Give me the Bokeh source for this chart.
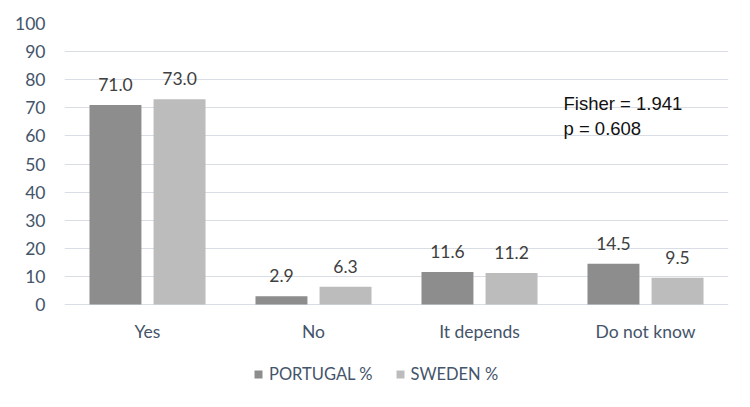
from bokeh.plotting import figure
from bokeh.models import ColumnDataSource, Label, Legend, LegendItem, LabelSet
from bokeh.transform import dodge
from bokeh.core.properties import value
from bokeh.embed import file_html
from bokeh.resources import INLINE

categories = ["Yes", "No", "It depends", "Do not know"]
portugal = [71.0, 2.9, 11.6, 14.5]
sweden = [73.0, 6.3, 11.2, 9.5]
series_names = ["PORTUGAL %", "SWEDEN %"]
y_ticks = [0, 10, 20, 30, 40, 50, 60, 70, 80, 90, 100]
stats_text = ["Fisher = 1.941", "p = 0.608"]

src = ColumnDataSource(dict(
    cat=categories, pt=portugal, se=sweden,
    pt_lab=[f"{v:.1f}" for v in portugal],
    se_lab=[f"{v:.1f}" for v in sweden],
    base=[0] * len(categories),
))

FONT = "Lato"
AXIS_COL = "#44546a"

p = figure(x_range=categories, y_range=(-33.8, 100), width=742, height=399,
           output_backend="svg", toolbar_location=None,
           min_border_left=64, min_border_right=14, min_border_top=23, min_border_bottom=0)
p.x_range.range_padding = 0
p.outline_line_color = None
p.background_fill_color = "white"
p.border_fill_color = "white"

p.ygrid.ticker = y_ticks
p.ygrid.grid_line_color = "#d9dee6"
p.ygrid.grid_line_width = 1
p.xgrid.grid_line_color = None
p.xaxis.visible = False

p.yaxis.ticker = y_ticks
p.yaxis.axis_line_color = None
p.yaxis.major_tick_line_color = None
p.yaxis.minor_tick_line_color = None
p.yaxis.major_label_text_color = AXIS_COL
p.yaxis.major_label_text_font = FONT
p.yaxis.major_label_text_font_size = "17.5px"
p.yaxis.major_label_standoff = 13

r1 = p.vbar(x=dodge("cat", -0.193, range=p.x_range), top="pt", width=0.313, source=src,
            fill_color="#8d8d8d", line_color=None)
r2 = p.vbar(x=dodge("cat", 0.193, range=p.x_range), top="se", width=0.313, source=src,
            fill_color="#bcbcbc", line_color=None)

for col, lab, off in (("pt", "pt_lab", -0.193), ("se", "se_lab", 0.193)):
    ls = LabelSet(x=dodge("cat", off, range=p.x_range), y=col, text=lab, source=src,
                  y_offset=14, text_align="center", text_baseline="alphabetic",
                  text_font=value(FONT), text_font_size="17.5px", text_color="#404040")
    p.add_layout(ls)

# category labels
p.add_layout(LabelSet(x="cat", y="base", text="cat", source=src, y_offset=-33,
                      text_align="center", text_baseline="alphabetic",
                      text_font=value(FONT), text_font_size="17.5px", text_color=AXIS_COL))

p.add_layout(Label(x=3.006, y=71.5, text=stats_text[0], text_baseline="alphabetic",
                   text_font="Liberation Sans", text_font_size="18.5px", text_color="#111111"))
p.add_layout(Label(x=3.006, y=62.6, text=stats_text[1], text_baseline="alphabetic",
                   text_font="Liberation Sans", text_font_size="18.5px", text_color="#111111"))

legend = Legend(items=[LegendItem(label=series_names[0], renderers=[r1]),
                       LegendItem(label=series_names[1], renderers=[r2])],
                orientation="horizontal", location=(189, 15),
                padding=0, margin=0, spacing=22, glyph_width=10, glyph_height=10,
                label_standoff=6, label_text_font=FONT, label_text_font_size="16.5px",
                label_text_color=AXIS_COL, border_line_color=None,
                background_fill_alpha=0)
p.add_layout(legend, "center")

open("out.html", "w").write(file_html(p, INLINE))
